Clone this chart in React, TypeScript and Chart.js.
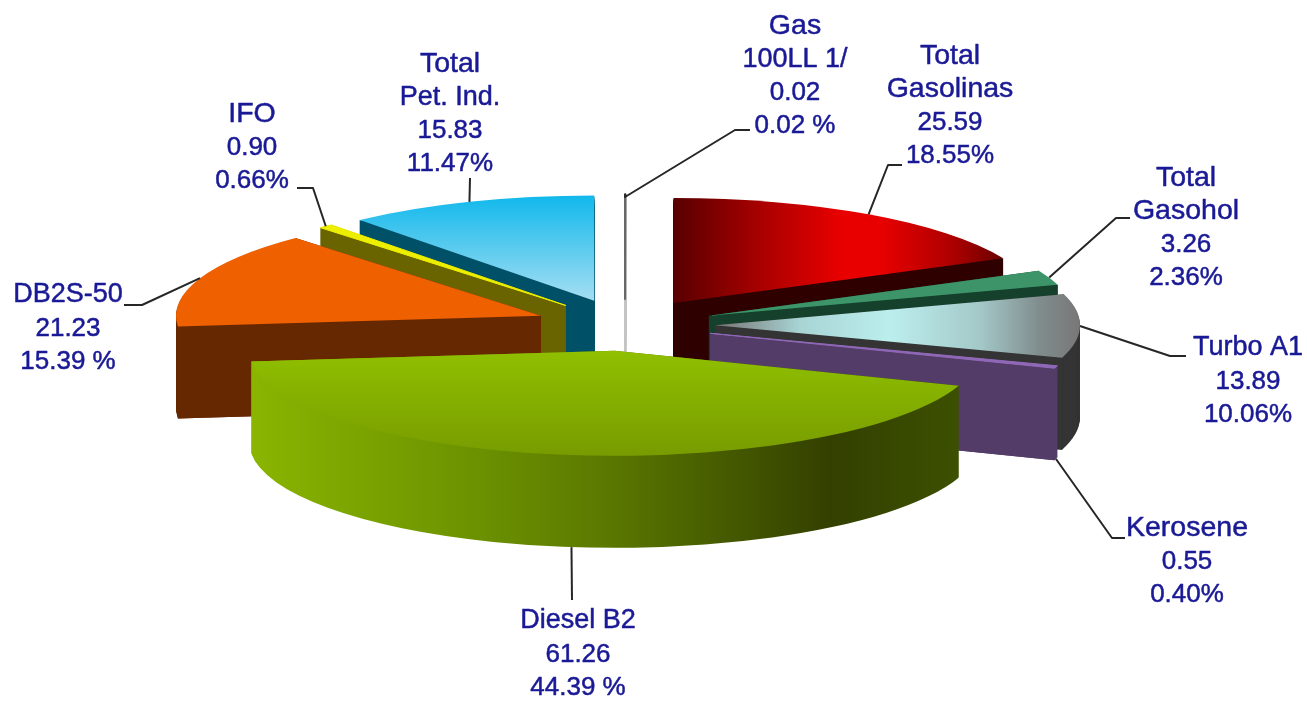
import React, { useEffect, useRef } from "react";
import { Chart, registerables } from "chart.js";

Chart.register(...registerables);

// ---- data ----
const categories = ["Gas 100LL 1/", "Total Gasolinas", "Total Gasohol", "Turbo A1", "Kerosene", "Diesel B2", "DB2S-50", "IFO", "Total Pet. Ind."];
const values = [0.02, 25.59, 3.26, 13.89, 0.55, 61.26, 21.23, 0.9, 15.83];
const percents = ["0.02 %", "18.55%", "2.36%", "10.06%", "0.40%", "44.39 %", "15.39 %", "0.66%", "11.47%"];
const nameLines = [["Gas", "100LL 1/"], ["Total", "Gasolinas"], ["Total", "Gasohol"], ["Turbo A1"], ["Kerosene"], ["Diesel B2"], ["DB2S-50"], ["IFO"], ["Total", "Pet. Ind."]];

// ---- layout & style ----
const W = 1307, H = 701;
const CX = 625, CY = 325, RADIUS = 365, SQUASH = 0.288, DEPTH = 92, EXPLODE = 90;
const NAME_FONT = '28.5px "Liberation Sans", Arial, sans-serif';
const MIXED_FONT = '27px "Liberation Sans", Arial, sans-serif';
const NUM_FONT = '26px "Liberation Sans", Arial, sans-serif';
const TEXT = "#1a1a96";
const LINE_H = 33.4;

// label centre x, first-line centre y
const labelPos: [number, number][] = [[795, 26], [950, 56], [1186, 178], [1248, 348], [1187, 528], [578, 621], [68, 295], [252, 114], [450, 64]];
// leader line points after the slice anchor
const leaders: [number, number][][] = [
  [[625, 197], [735, 130], [750, 130]],
  [[888, 165], [902, 165]],
  [[1116, 218], [1130, 218]],
  [[1170, 356], [1186, 356]],
  [[1112, 538], [1125, 538]],
  [[572, 600]],
  [[142, 305], [124, 305]],
  [[313, 188], [297, 188]],
  [[470, 178]],
];
type Stops = [number, string][];
type Fill = { axis: "x" | "y"; stops: Stops } | string;
const topFills: Fill[] = [
  "#666666",
  { axis: "x", stops: [[675, "#5a0000"], [760, "#a80000"], [840, "#e80000"], [880, "#e80000"], [950, "#b00000"], [1003, "#6a0000"]] },
  "#3c9468",
  { axis: "x", stops: [[722, "#7a7a7a"], [800, "#a8d4d4"], [890, "#bceeee"], [980, "#a4c8c8"], [1040, "#808c8c"], [1078, "#787878"]] },
  "#9068b8",
  { axis: "y", stops: [[350, "#90c000"], [455, "#789c00"]] },
  "#ee6000",
  "#eeee00",
  { axis: "y", stops: [[195, "#10b8ec"], [300, "#a4def2"]] },
];
const sideFills: Fill[] = [
  "#c4c4c4",
  "#2e0000",
  "#14402c",
  "#343434",
  "#533c67",
  { axis: "x", stops: [[250, "#8ab500"], [450, "#6f9600"], [600, "#5c7a00"], [830, "#334000"], [958, "#3c5000"]] },
  "#662800",
  "#6a6400",
  "#005068",
];
const drawOrder = [1, 0, 8, 7, 6, 2, 3, 4, 5];

function makeFill(ctx: CanvasRenderingContext2D, f: Fill) {
  if (typeof f === "string") return f;
  const a = f.stops[0][0], b = f.stops[f.stops.length - 1][0];
  const g = f.axis === "x" ? ctx.createLinearGradient(a, 0, b, 0) : ctx.createLinearGradient(0, a, 0, b);
  f.stops.forEach(([p, c]) => g.addColorStop((p - a) / (b - a), c));
  return g;
}

function fontFor(t: string) {
  if (!/[A-Za-z]/.test(t)) return NUM_FONT;
  return /[0-9.]/.test(t) ? MIXED_FONT : NAME_FONT;
}

const pie3d = {
  id: "pie3d",
  beforeDatasetsDraw(chart: any) {
    const ctx: CanvasRenderingContext2D = chart.ctx;
    const arcs = chart.getDatasetMeta(0).data;
    const apex = (arc: any) => {
      const mid = (arc.startAngle + arc.endAngle) / 2;
      return { x: arc.x + Math.cos(mid) * EXPLODE, y: arc.y + Math.sin(mid) * EXPLODE * SQUASH, mid };
    };
    const rim = (arc: any, angle: number) => {
      const p = apex(arc);
      return { x: p.x + Math.cos(angle) * arc.outerRadius, y: p.y + Math.sin(angle) * arc.outerRadius * SQUASH };
    };
    const slicePath = (arc: any, dy: number) => {
      const p = apex(arc);
      const rx = arc.outerRadius, ry = arc.outerRadius * SQUASH;
      ctx.beginPath();
      ctx.moveTo(p.x, p.y + dy);
      ctx.ellipse(p.x, p.y + dy, rx, ry, 0, arc.startAngle, arc.endAngle);
      ctx.closePath();
    };
    const cutFace = (arc: any, angle: number) => {
      const p = apex(arc), e = rim(arc, angle);
      ctx.beginPath();
      ctx.moveTo(p.x, p.y);
      ctx.lineTo(e.x, e.y);
      ctx.lineTo(e.x, e.y + DEPTH);
      ctx.lineTo(p.x, p.y + DEPTH);
      ctx.closePath();
      ctx.fill();
    };
    ctx.save();
    ctx.lineJoin = "round";
    drawOrder.forEach((i) => {
      const arc = arcs[i];
      const side = makeFill(ctx, sideFills[i]);
      ctx.fillStyle = side;
      ctx.strokeStyle = side;
      ctx.lineWidth = 2;
      for (let d = DEPTH; d > 0; d -= 1) {
        slicePath(arc, d);
        ctx.fill();
        if (i === 0) ctx.stroke();
      }
      cutFace(arc, arc.startAngle);
      cutFace(arc, arc.endAngle);
      const top = makeFill(ctx, topFills[i]);
      ctx.fillStyle = top;
      ctx.strokeStyle = top;
      slicePath(arc, 0);
      ctx.fill();
      if (i === 0 || i === 4 || i === 7) {
        ctx.lineWidth = i === 0 ? 2 : 1;
        ctx.stroke();
      }
    });
    // leaders
    ctx.strokeStyle = "#262626";
    ctx.lineWidth = 2;
    leaders.forEach((pts, i) => {
      const arc = arcs[i];
      const p = apex(arc);
      const a = rim(arc, p.mid);
      const ay = Math.sin(p.mid) > 0.2 ? a.y + DEPTH : a.y;
      ctx.beginPath();
      ctx.moveTo(a.x, ay);
      pts.forEach(([x, y]) => ctx.lineTo(x, y));
      ctx.stroke();
    });
    // labels
    ctx.fillStyle = TEXT;
    ctx.strokeStyle = TEXT;
    ctx.lineWidth = 0.5;
    ctx.textAlign = "center";
    ctx.textBaseline = "middle";
    categories.forEach((_, i) => {
      const lines = [...nameLines[i], values[i].toFixed(2), percents[i]];
      const [x, y] = labelPos[i];
      lines.forEach((t, k) => {
        ctx.font = fontFor(t);
        ctx.fillText(t, x, y + k * LINE_H);
        ctx.strokeText(t, x, y + k * LINE_H);
      });
    });
    ctx.restore();
    return false;
  },
};

export default function App() {
  const ref = useRef<HTMLCanvasElement>(null);
  useEffect(() => {
    const chart = new Chart(ref.current as HTMLCanvasElement, {
      type: "pie",
      data: {
        labels: categories,
        datasets: [{ data: values, radius: RADIUS, borderWidth: 0 } as any],
      },
      options: {
        animation: false,
        responsive: false,
        rotation: 0,
        layout: { padding: { right: 2 * (W / 2 - CX), bottom: 2 * (H / 2 - CY) } },
        plugins: { legend: { display: false }, tooltip: { enabled: false } },
      },
      plugins: [pie3d as any],
    });
    return () => chart.destroy();
  }, []);
  return (
    <div style={{ position: "absolute", left: 0, top: 0, width: W, height: H, background: "#fff" }}>
      <canvas ref={ref} width={W} height={H} style={{ display: "block", filter: "blur(0.5px)" }} />
    </div>
  );
}
